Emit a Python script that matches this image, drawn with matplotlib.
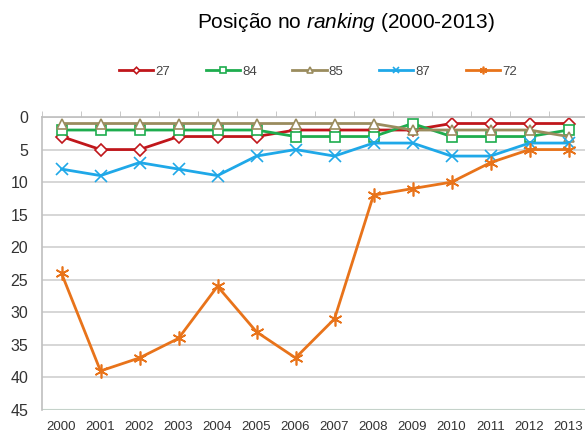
import numpy as np
import matplotlib
matplotlib.use("Agg")
import matplotlib.pyplot as plt
from matplotlib.ticker import MultipleLocator

years = ["2000", "2001", "2002", "2003", "2004", "2005", "2006",
         "2007", "2008", "2009", "2010", "2011", "2012", "2013"]
s27 = [3, 5, 5, 3, 3, 3, 2, 2, 2, 2, 1, 1, 1, 1]
s84 = [2, 2, 2, 2, 2, 2, 3, 3, 3, 1, 3, 3, 3, 2]
s85 = [1, 1, 1, 1, 1, 1, 1, 1, 1, 2, 2, 2, 2, 3]
s87 = [8, 9, 7, 8, 9, 6, 5, 6, 4, 4, 6, 6, 4, 4]
s72 = [24, 39, 37, 34, 26, 33, 37, 31, 12, 11, 10, 7, 5, 5]

names = ["27", "84", "85", "87", "72"]
series = [s27, s84, s85, s87, s72]
colors = ["#C0161B", "#1EAD4E", "#9A8C5E", "#1FA8E8", "#E8731A"]
markers = ["D", "s", "^", "x", (6, 2, 0)]
msizes = [6, 7, 7, 9, 10]

plt.rcParams['font.family'] = ['Liberation Sans', 'DejaVu Sans']
plt.rcParams['mathtext.fontset'] = 'custom'
plt.rcParams['mathtext.it'] = 'Liberation Sans:italic'
plt.rcParams['mathtext.rm'] = 'Liberation Sans'

fig = plt.figure(figsize=(5.85, 4.37), dpi=100)
ax = fig.add_axes([42 / 585, 1 - 410 / 437, 546 / 585, 293 / 437])

x = np.arange(len(years))
for name, vals, c, m, ms in zip(names, series, colors, markers, msizes):
    filled = m in ("x", (6, 2, 0))
    ax.plot(x, vals, color=c, lw=2.0, marker=m, markersize=ms,
            markerfacecolor=c if filled else "white",
            markeredgecolor=c, markeredgewidth=1.2, label=name)

ax.set_xlim(-0.5, len(years) - 0.5)
ax.set_ylim(45, 0)
ax.yaxis.set_major_locator(MultipleLocator(5))
ax.grid(axis="y", color="#D0D0D0", lw=1.2)
ax.set_axisbelow(True)
ax.axhline(45, color="#8FE0B0", lw=1.5, zorder=0)

for s in ["right", "bottom"]:
    ax.spines[s].set_visible(False)
ax.spines["top"].set_color("#BFBFBF")
ax.spines["left"].set_color("#BFBFBF")
ax.spines["top"].set_linewidth(1.2)
ax.spines["left"].set_linewidth(1.2)

ax.set_xticks(x)
ax.set_xticklabels(years, fontsize=9.5, color="#333333",
                   family=['Liberation Sans Narrow', 'Liberation Sans'])
ax.set_xticks(np.arange(len(years) + 1) - 0.5, minor=True)
ax.tick_params(axis="x", which="major", length=0, pad=8)
ax.tick_params(axis="x", which="minor", top=True, bottom=False,
               direction="out", length=4, color="#BFBFBF")
ax.tick_params(axis="y", length=0, labelsize=11.5, colors="#333333", pad=10)

fig.text(346 / 585, 1 - 22 / 437, r"Posição no $\it{ranking}$ (2000-2013)",
         ha="center", va="center", fontsize=15)

fig.legend(loc="center", bbox_to_anchor=(318 / 585, 1 - 72 / 437), ncol=5,
           frameon=False, fontsize=9.5, handlelength=2.6, columnspacing=2.7,
           handletextpad=0.15, markerscale=0.55, labelcolor="#444444")

fig.savefig("out.png", dpi=100)
